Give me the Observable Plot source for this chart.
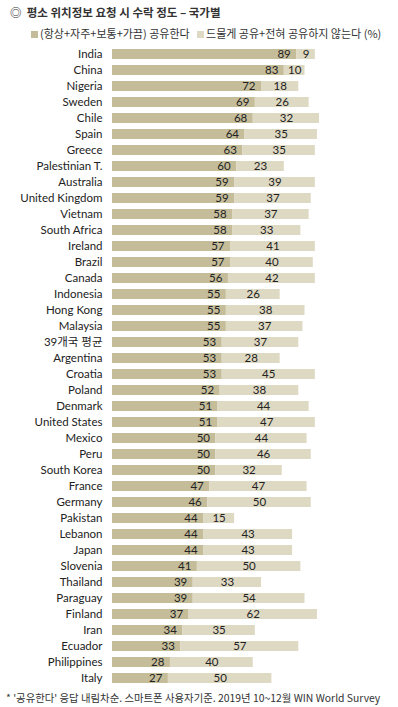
<!DOCTYPE html>
<html><head><meta charset="utf-8">
<script src="https://cdn.jsdelivr.net/npm/d3@7"></script>
<script src="https://cdn.jsdelivr.net/npm/@observablehq/plot@0.6"></script>
<style>
body{margin:0;background:#fff;font-family:"Noto Sans CJK KR","Noto Sans",sans-serif;}
#wrap{position:relative;width:398px;height:707px;overflow:hidden;}
#title{position:absolute;left:10px;top:4px;font-size:11.5px;font-weight:bold;color:#333;white-space:nowrap;}
#legend{position:absolute;left:31px;top:25px;font-size:11px;color:#333;white-space:nowrap;}
#legend span.sw{display:inline-block;width:7px;height:7px;margin-right:2px;vertical-align:0px;}
#chart{position:absolute;left:0;top:46px;}
#chart svg{display:block;}
#foot{position:absolute;left:6px;top:690px;font-size:10.4px;color:#333;white-space:nowrap;}
</style></head>
<body><div id="wrap">
<div id="title">◎&nbsp;&nbsp;평소 위치정보 요청 시 수락 정도 – 국가별</div>
<div id="legend"><span class="sw" style="background:#c5bd9a"></span>(항상+자주+보통+가끔) 공유한다&nbsp;&nbsp;&nbsp;<span class="sw" style="background:#ded9c3"></span>드물게 공유+전혀 공유하지 않는다 (%)</div>
<div id="chart"></div>
<div id="foot">* '공유한다' 응답 내림차순. 스마트폰 사용자기준. 2019년 10~12월 WIN World Survey</div>
</div>
<script>
const countries = ["India","China","Nigeria","Sweden","Chile","Spain","Greece","Palestinian T.","Australia","United Kingdom","Vietnam","South Africa","Ireland","Brazil","Canada","Indonesia","Hong Kong","Malaysia","39개국 평균","Argentina","Croatia","Poland","Denmark","United States","Mexico","Peru","South Korea","France","Germany","Pakistan","Lebanon","Japan","Slovenia","Thailand","Paraguay","Finland","Iran","Ecuador","Philippines","Italy"];
const share = [89,83,72,69,68,64,63,60,59,59,58,58,57,57,56,55,55,55,53,53,53,52,51,51,50,50,50,47,46,44,44,44,41,39,39,37,34,33,28,27];
const notShare = [9,10,18,26,32,35,35,23,39,37,37,33,41,40,42,26,38,37,37,28,45,38,44,47,44,46,32,47,50,15,43,43,50,33,54,62,35,57,40,50];
const seriesNames = ["(항상+자주+보통+가끔) 공유한다","드물게 공유+전혀 공유하지 않는다"];
const colors = ["#c5bd9a","#ded9c3"];

const rows = [];
countries.forEach((c,i)=>{
  rows.push({country:c, series:seriesNames[0], x1:0, x2:share[i], v:share[i]});
  rows.push({country:c, series:seriesNames[1], x1:share[i], x2:share[i]+notShare[i], v:notShare[i]});
});
const first = rows.filter(d=>d.series===seriesNames[0]);
const second = rows.filter(d=>d.series===seriesNames[1]);

const plot = Plot.plot({
  width:398, height:640,
  marginLeft:112, marginRight:79, marginTop:0, marginBottom:0,
  style:{fontFamily:"Lato, 'Noto Sans CJK KR', sans-serif", fontSize:"11px", color:"#222"},
  x:{domain:[0,100], axis:null},
  y:{domain:countries, paddingInner:0.375, paddingOuter:0.1875, align:0.5, label:null, tickSize:0, tickPadding:10},
  color:{domain:seriesNames, range:colors},
  marks:[
    Plot.barX(rows,{y:"country", x1:"x1", x2:"x2", fill:"series"}),
    Plot.text(first,{y:"country", x:"x2", text:d=>String(d.v), textAnchor:"end", dx:-6, fill:"#222", fontSize:11.5}),
    Plot.text(second,{y:"country", x:d=>(d.x1+d.x2)/2, text:d=>String(d.v), fill:"#222", fontSize:11.5}),
    Plot.axisY({tickSize:0, tickPadding:10, label:null, fontSize:11.5, style:"letter-spacing:0.4px"})
  ]
});
document.getElementById("chart").appendChild(plot);
</script>
</body></html>
